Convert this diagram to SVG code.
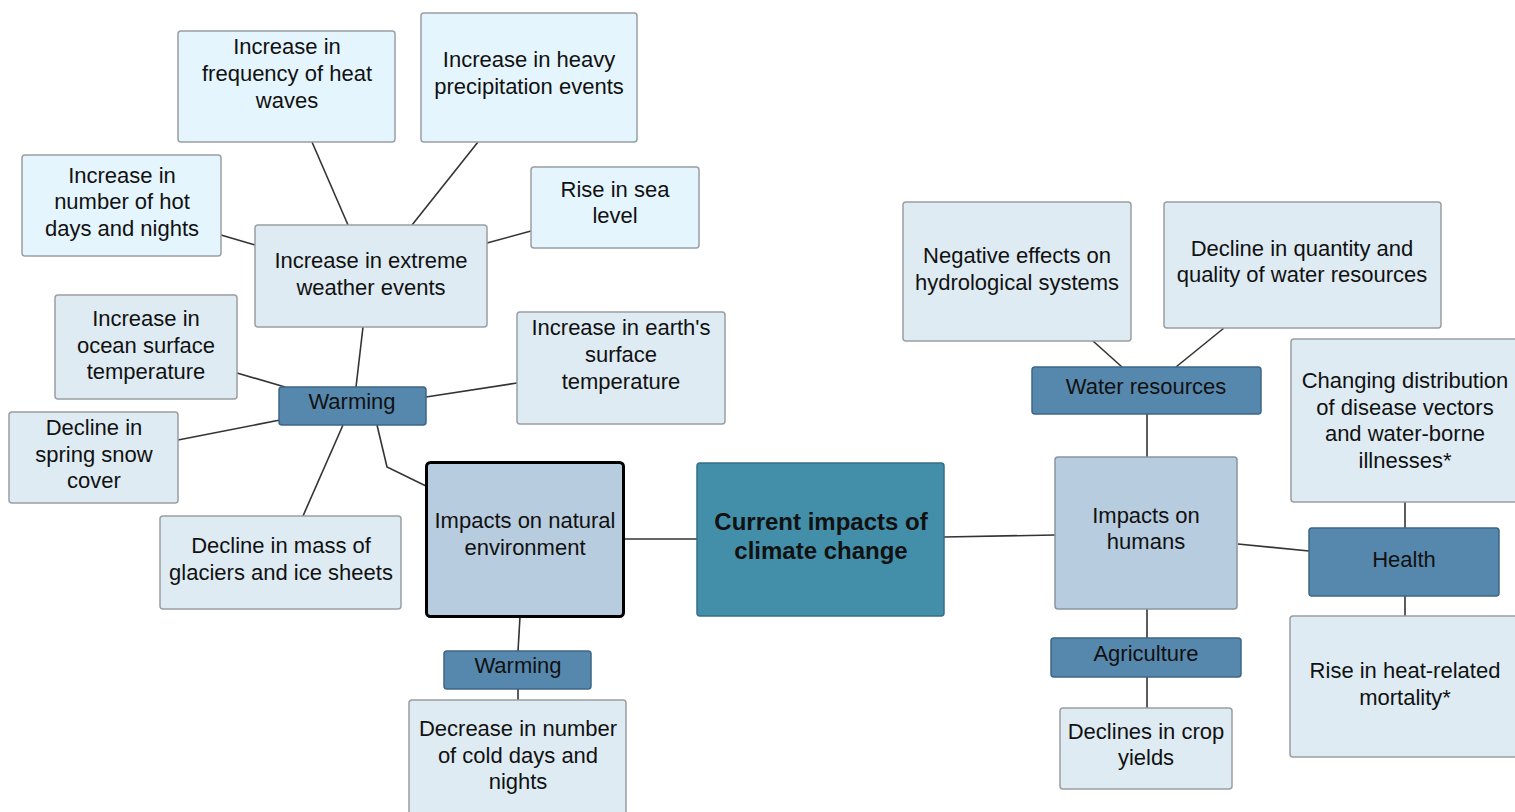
<svg xmlns="http://www.w3.org/2000/svg" width="1515" height="812" viewBox="0 0 1515 812">
<style>
.t{font-family:"Liberation Sans",Arial,sans-serif;font-size:22px;fill:#111;text-anchor:middle}
.b{font-weight:bold;font-size:24px}
.c{fill:#e5f5fd;stroke:#9a9fa3;stroke-width:1.5}
.l{fill:#deebf3;stroke:#9a9fa3;stroke-width:1.5}
.m{fill:#b7ccde;stroke:#8a959e;stroke-width:1.5}
.d{fill:#5688ae;stroke:#3e6585;stroke-width:1.5}
.k{fill:#438ea8;stroke:#356f85;stroke-width:1.5}
.conn line,.conn polyline{stroke:#333;stroke-width:1.6;fill:none}
</style>
<rect width="1515" height="812" fill="#fff"/>
<g class="conn">
<line x1="312" y1="142" x2="348" y2="225"/>
<line x1="478" y1="142" x2="412" y2="225"/>
<line x1="221" y1="235" x2="255" y2="245"/>
<line x1="531" y1="231" x2="487" y2="243"/>
<line x1="363" y1="327" x2="356" y2="387"/>
<line x1="237" y1="373" x2="285" y2="387"/>
<line x1="178" y1="440" x2="280" y2="420"/>
<line x1="517" y1="383" x2="426" y2="397"/>
<line x1="303" y1="516" x2="343" y2="425"/>
<polyline points="377,425 387,467 426,486"/>
<line x1="624" y1="539" x2="697" y2="539"/>
<line x1="520" y1="617" x2="518" y2="651"/>
<line x1="518" y1="689" x2="518" y2="700"/>
<line x1="944" y1="537" x2="1055" y2="535"/>
<line x1="1093" y1="341" x2="1122" y2="367"/>
<line x1="1224" y1="328" x2="1176" y2="367"/>
<line x1="1147" y1="414" x2="1147" y2="457"/>
<line x1="1238" y1="544" x2="1309" y2="551"/>
<line x1="1405" y1="502" x2="1405" y2="528"/>
<line x1="1405" y1="596" x2="1405" y2="616"/>
<line x1="1147" y1="609" x2="1147" y2="638"/>
<line x1="1147" y1="677" x2="1147" y2="708"/>
</g>
<g id="heatwaves"><rect class="c" x="178" y="31" width="217" height="111" rx="3"/><text class="t" x="287" y="54">Increase in</text><text class="t" x="287" y="81">frequency of heat</text><text class="t" x="287" y="108">waves</text></g>
<g id="heavyprecip"><rect class="c" x="421" y="13" width="216" height="129" rx="3"/><text class="t" x="529" y="67">Increase in heavy</text><text class="t" x="529" y="94">precipitation events</text></g>
<g id="hotdays"><rect class="c" x="22" y="155" width="199" height="101" rx="3"/><text class="t" x="122" y="183">Increase in</text><text class="t" x="122" y="209">number of hot</text><text class="t" x="122" y="236">days and nights</text></g>
<g id="sealevel"><rect class="c" x="531" y="167" width="168" height="81" rx="3"/><text class="t" x="615" y="197">Rise in sea</text><text class="t" x="615" y="223">level</text></g>
<g id="extreme"><rect class="l" x="255" y="225" width="232" height="102" rx="3"/><text class="t" x="371" y="268">Increase in extreme</text><text class="t" x="371" y="295">weather events</text></g>
<g id="ocean"><rect class="l" x="55" y="295" width="182" height="104" rx="3"/><text class="t" x="146" y="326">Increase in</text><text class="t" x="146" y="353">ocean surface</text><text class="t" x="146" y="379">temperature</text></g>
<g id="warming1"><rect class="d" x="279" y="387" width="147" height="38" rx="3"/><text class="t" x="352" y="409">Warming</text></g>
<g id="earth"><rect class="l" x="517" y="312" width="208" height="112" rx="3"/><text class="t" x="621" y="335">Increase in earth's</text><text class="t" x="621" y="362">surface</text><text class="t" x="621" y="389">temperature</text></g>
<g id="snow"><rect class="l" x="9" y="412" width="169" height="91" rx="3"/><text class="t" x="94" y="435">Decline in</text><text class="t" x="94" y="462">spring snow</text><text class="t" x="94" y="488">cover</text></g>
<g id="glaciers"><rect class="l" x="160" y="516" width="241" height="93" rx="3"/><text class="t" x="281" y="553">Decline in mass of</text><text class="t" x="281" y="580">glaciers and ice sheets</text></g>
<g id="natural"><rect x="426.5" y="462.5" width="197" height="154" rx="4" fill="#b7ccde" stroke="#000" stroke-width="3"/><text class="t" x="525" y="528">Impacts on natural</text><text class="t" x="525" y="555">environment</text></g>
<g id="center"><rect class="k" x="697" y="463" width="247" height="153" rx="3"/><text class="t b" x="821" y="530">Current impacts of</text><text class="t b" x="821" y="559">climate change</text></g>
<g id="warming2"><rect class="d" x="444" y="651" width="147" height="38" rx="3"/><text class="t" x="518" y="673">Warming</text></g>
<g id="colddays"><rect class="l" x="409" y="700" width="217" height="120" rx="3"/><text class="t" x="518" y="736">Decrease in number</text><text class="t" x="518" y="763">of cold days and</text><text class="t" x="518" y="789">nights</text></g>
<g id="hydro"><rect class="l" x="903" y="202" width="228" height="139" rx="3"/><text class="t" x="1017" y="263">Negative effects on</text><text class="t" x="1017" y="290">hydrological systems</text></g>
<g id="quantity"><rect class="l" x="1164" y="202" width="277" height="126" rx="3"/><text class="t" x="1302" y="256">Decline in quantity and</text><text class="t" x="1302" y="282">quality of water resources</text></g>
<g id="waterres"><rect class="d" x="1032" y="367" width="229" height="47" rx="3"/><text class="t" x="1146" y="394">Water resources</text></g>
<g id="disease"><rect class="l" x="1291" y="339" width="235" height="163" rx="3"/><text class="t" x="1405" y="388">Changing distribution</text><text class="t" x="1405" y="415">of disease vectors</text><text class="t" x="1405" y="441">and water-borne</text><text class="t" x="1405" y="468">illnesses*</text></g>
<g id="humans"><rect class="m" x="1055" y="457" width="182" height="152" rx="3"/><text class="t" x="1146" y="523">Impacts on</text><text class="t" x="1146" y="549">humans</text></g>
<g id="health"><rect class="d" x="1309" y="528" width="190" height="68" rx="3"/><text class="t" x="1404" y="567">Health</text></g>
<g id="agriculture"><rect class="d" x="1051" y="638" width="190" height="39" rx="3"/><text class="t" x="1146" y="661">Agriculture</text></g>
<g id="crop"><rect class="l" x="1060" y="708" width="172" height="81" rx="3"/><text class="t" x="1146" y="739">Declines in crop</text><text class="t" x="1146" y="765">yields</text></g>
<g id="mortality"><rect class="l" x="1290" y="616" width="235" height="141" rx="3"/><text class="t" x="1405" y="678">Rise in heat-related</text><text class="t" x="1405" y="705">mortality*</text></g>
</svg>
